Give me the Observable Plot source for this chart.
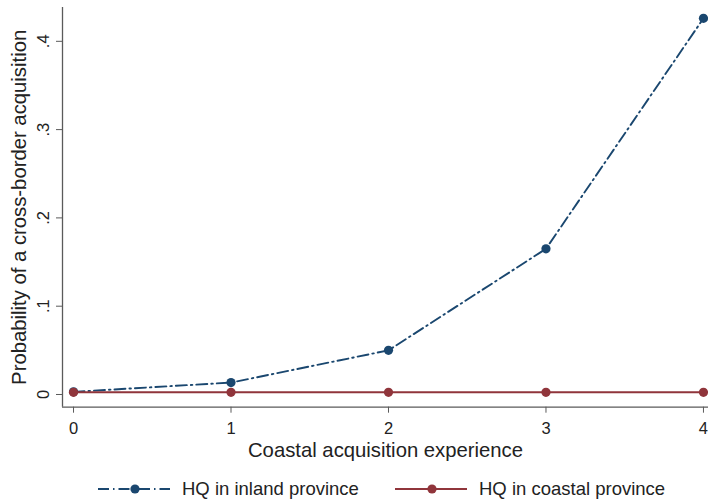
<!DOCTYPE html>
<html><head><meta charset="utf-8">
<script src="https://cdn.jsdelivr.net/npm/d3@7"></script>
<script src="https://cdn.jsdelivr.net/npm/@observablehq/plot@0.6"></script>
<style>
body{margin:0;background:#fff;font-family:"Liberation Sans",Arial,Helvetica,sans-serif;}
#wrap{position:relative;width:708px;height:504px;overflow:hidden;background:#fff;}
#legend{position:absolute;left:0;top:466px;width:708px;height:38px;}
.item{position:absolute;top:0;height:38px;display:flex;align-items:center;font-size:18.5px;color:#222;}
.item svg{margin-right:12px;}
</style></head><body><div id="wrap"><div id="chart"></div><div id="legend"></div></div>
<script>
const experience = [0, 1, 2, 3, 4];
const inland = [0.003, 0.0135, 0.050, 0.165, 0.426];
const coastal = [0.0025, 0.0025, 0.0025, 0.0025, 0.0025];
const seriesNames = ["HQ in inland province", "HQ in coastal province"];
const seriesColors = ["#1a476f", "#90353b"];
const yTicks = [0, 0.1, 0.2, 0.3, 0.4];
const xTicks = [0, 1, 2, 3, 4];
const xTitle = "Coastal acquisition experience";
const yTitle = "Probability of a cross-border acquisition";

const rows = [];
experience.forEach((e, i) => {
  rows.push({x: e, y: inland[i], s: seriesNames[0]});
});
experience.forEach((e, i) => {
  rows.push({x: e, y: coastal[i], s: seriesNames[1]});
});
const inlandRows = rows.filter(d => d.s === seriesNames[0]);
const coastalRows = rows.filter(d => d.s === seriesNames[1]);

const xDom = [-0.07, 4.032];
const yDom = [-0.0144, 0.4383];
const axisColor = "#5a5a5a";
const dashPat = "11,4,1.5,4";
const fmt = d => d === 0 ? "0" : d3.format(".1f")(d).replace(/^0/, "");

const chart = Plot.plot({
  width: 708, height: 466,
  marginLeft: 62, marginRight: 0, marginTop: 7, marginBottom: 59.3,
  style: {fontFamily: "'Liberation Sans', Arial, sans-serif", background: "#fff", color: "#222"},
  x: {domain: xDom},
  y: {domain: yDom},
  marks: [
    Plot.ruleX([xDom[0]], {stroke: axisColor, strokeWidth: 1.3}),
    Plot.ruleY([yDom[0]], {stroke: axisColor, strokeWidth: 1.3}),
    Plot.axisY(yTicks, {tickSize: 6, tickPadding: 8, tickRotate: -90, tickFormat: fmt, fontSize: 16.5, stroke: axisColor, fill: "#222", label: null}),
    Plot.axisX(xTicks, {tickSize: 6, tickPadding: 9, tickFormat: d => String(d), fontSize: 16.5, stroke: axisColor, fill: "#222", label: null}),
    Plot.line(inlandRows, {x: "x", y: "y", stroke: seriesColors[0], strokeWidth: 1.9, strokeDasharray: dashPat}),
    Plot.dot(inlandRows, {x: "x", y: "y", r: 4.6, fill: seriesColors[0], stroke: null}),
    Plot.line(coastalRows, {x: "x", y: "y", stroke: seriesColors[1], strokeWidth: 1.9}),
    Plot.dot(coastalRows, {x: "x", y: "y", r: 4.6, fill: seriesColors[1], stroke: null}),
    Plot.text([yTitle], {frameAnchor: "left", textAnchor: "middle", rotate: -90, dx: -37, lineAnchor: "bottom", fontSize: 20.3, fill: "#222"}),
    Plot.text([xTitle], {frameAnchor: "bottom", textAnchor: "middle", dy: 35, lineAnchor: "top", fontSize: 20.3, fill: "#222"})
  ]
});
document.getElementById("chart").appendChild(chart);

// Legend
const legend = document.getElementById("legend");
const legendLeft = [98, 395];
seriesNames.forEach((name, i) => {
  const item = document.createElement("div");
  item.className = "item";
  item.style.left = legendLeft[i] + "px";
  const dash = i === 0 ? `stroke-dasharray="${dashPat}"` : "";
  item.innerHTML = `<svg width="72" height="14" viewBox="0 0 72 14">
    <line x1="0" y1="7" x2="72" y2="7" stroke="${seriesColors[i]}" stroke-width="1.9" ${dash}/>
    <circle cx="37" cy="7" r="4.6" fill="${seriesColors[i]}"/></svg><span>${name}</span>`;
  item.style.top = "4px";
  legend.appendChild(item);
});
</script>
</body></html>
